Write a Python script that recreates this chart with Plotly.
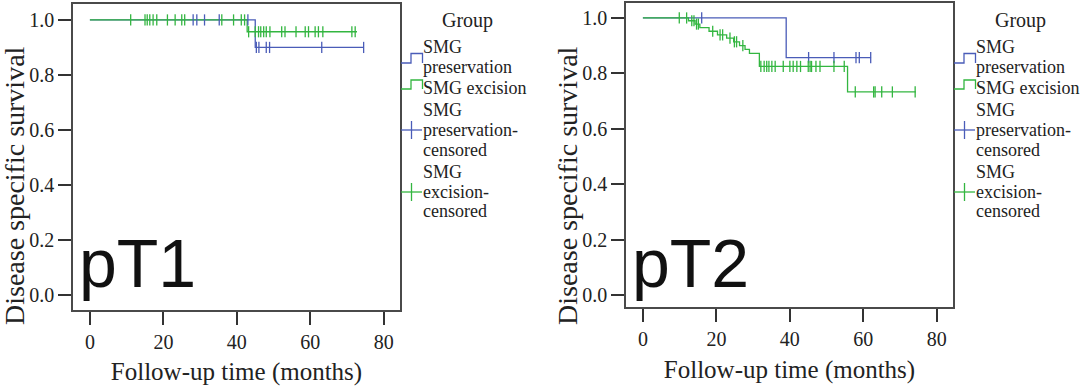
import numpy as np
import plotly.graph_objects as go

# ---------------- data ----------------
# pT1
t1_pres_event_times = [45.0]
t1_pres_event_surv = [0.90]
t1_pres_end = 74.5
t1_pres_censored = [28.1, 29.1, 31.2, 35.2, 43.0, 45.3, 46.0, 48.0, 48.9, 63.1, 74.5]

t1_exc_event_times = [42.8]
t1_exc_event_surv = [0.957]
t1_exc_end = 72.7
t1_exc_censored = [11.1, 15.0, 15.6, 16.3, 17.2, 18.2, 21.1, 23.2, 25.0, 25.8, 35.9, 39.1,
                   41.2, 42.1, 43.2, 45.0, 45.9, 46.5, 47.3, 48.0, 49.0, 52.2, 53.1, 56.1,
                   58.6, 59.5, 61.3, 62.2, 63.4, 71.3, 72.2]

# pT2
t2_pres_event_times = [39.0]
t2_pres_event_surv = [0.857]
t2_pres_end = 62.1
t2_pres_censored = [16.0, 45.1, 52.0, 58.0, 58.9, 62.0]

t2_exc_event_times = [12.4, 14.2, 15.5, 18.0, 20.3, 22.8, 24.7, 26.3, 27.8, 29.0, 31.7, 55.7]
t2_exc_event_surv = [0.990, 0.978, 0.965, 0.952, 0.939, 0.927, 0.914, 0.900, 0.887, 0.872,
                     0.825, 0.733]
t2_exc_end = 74.3
t2_exc_censored = [9.9, 11.9, 13.3, 13.9, 14.6, 15.1, 19.0, 21.0, 21.7, 23.7, 24.9, 25.5,
                   27.2, 32.1, 33.0, 33.7, 34.3, 35.1, 36.0, 38.2, 40.0, 40.9, 41.9, 42.9,
                   45.0, 45.5, 45.9, 47.1, 48.2, 52.0, 54.8, 57.8, 62.8, 63.2, 65.0, 67.9,
                   74.1]

x_ticks = [0, 20, 40, 60, 80]
y_ticks = [0.0, 0.2, 0.4, 0.6, 0.8, 1.0]
panel_labels = ["pT1", "pT2"]

BLUE = "#4A5CB8"
GREEN = "#33B640"
W, H = 1084, 386
SERIF = "Liberation Serif"


def step_xy(ev_t, ev_s, end):
    xs = [0.0] + list(ev_t) + [end]
    ys = [1.0] + list(ev_s) + [ev_s[-1]]
    return xs, ys


def level_at(ev_t, ev_s, times):
    ev_t = np.asarray(ev_t)
    lv = np.concatenate([[1.0], ev_s])
    idx = np.searchsorted(ev_t, np.asarray(times), side="right")
    return lv[idx]


fig = go.Figure()

panels = [
    ("x", "y", [(t1_pres_event_times, t1_pres_event_surv, t1_pres_end, t1_pres_censored, BLUE),
                (t1_exc_event_times, t1_exc_event_surv, t1_exc_end, t1_exc_censored, GREEN)]),
    ("x2", "y2", [(t2_pres_event_times, t2_pres_event_surv, t2_pres_end, t2_pres_censored, BLUE),
                  (t2_exc_event_times, t2_exc_event_surv, t2_exc_end, t2_exc_censored, GREEN)]),
]

for xa, ya, series in panels:
    for (et, es, end, cens, col) in series:
        xs, ys = step_xy(et, es, end)
        fig.add_trace(go.Scatter(x=xs, y=ys, mode="lines", line=dict(color=col, width=1.3, shape="hv"),
                                 xaxis=xa, yaxis=ya, showlegend=False, hoverinfo="skip"))
    for (et, es, end, cens, col) in series:
        fig.add_trace(go.Scatter(x=cens, y=level_at(et, es, cens), mode="markers",
                                 marker=dict(symbol="line-ns", size=8, line=dict(color=col, width=1.3)),
                                 xaxis=xa, yaxis=ya, showlegend=False, hoverinfo="skip"))


def px_x(v):
    return v / W


def px_y(v):
    return 1 - v / H


axis_common = dict(showline=True, mirror=True, linecolor="#4a4a4a", linewidth=1.5,
                   ticks="outside", ticklen=13, tickwidth=1.5, tickcolor="#333",
                   showgrid=False, zeroline=False,
                   tickfont=dict(family=SERIF, size=20, color="#222"))

x_title = dict(text="Follow-up time (months)", font=dict(family=SERIF, size=25, color="#222"), standoff=12)

x_range = [-4.6, 84.4]
fig.update_layout(
    xaxis=dict(domain=[px_x(73), px_x(400)], range=x_range, tickvals=x_ticks, anchor="y",
               title=x_title, **axis_common),
    yaxis=dict(domain=[px_y(310), px_y(4)], range=[-0.055, 1.058], tickvals=y_ticks, tickformat=".1f",
               anchor="x", **axis_common),
    xaxis2=dict(domain=[px_x(626), px_x(953)], range=x_range, tickvals=x_ticks, anchor="y2",
                title=x_title, **axis_common),
    yaxis2=dict(domain=[px_y(307), px_y(3)], range=[-0.043, 1.054], tickvals=y_ticks, tickformat=".1f",
                anchor="x2", **axis_common),
    width=W, height=H, margin=dict(l=0, r=0, t=0, b=0),
    paper_bgcolor="white", plot_bgcolor="white", showlegend=False,
)

# ---------------- y titles, panel labels and legends ----------------
annotations = []
shapes = []
for lab, off in zip(panel_labels, [0, 553]):
    annotations.append(dict(text="Disease specific survival", x=px_x(15 + off), y=px_y(186),
                            xref="paper", yref="paper", xanchor="center", yanchor="middle",
                            textangle=-90, showarrow=False, borderpad=0,
                            font=dict(family=SERIF, size=28, color="#222")))
    annotations.append(dict(text=lab, x=px_x(77 + off), y=px_y(263),
                            xref="paper", yref="paper", xanchor="left", yanchor="middle",
                            showarrow=False, font=dict(family="Liberation Sans", size=68, color="#111")))
    lx = 401 + off
    annotations.append(dict(text="Group", x=px_x(467 + off), y=px_y(21), xref="paper", yref="paper",
                            xanchor="center", yanchor="middle", showarrow=False,
                            font=dict(family=SERIF, size=20, color="#222")))
    legend_lines = [
        ("SMG", 47), ("preservation", 67), ("SMG excision", 88),
        ("SMG", 110), ("preservation-", 130), ("censored", 150),
        ("SMG", 172), ("excision-", 192), ("censored", 211),
    ]
    for txt, yy in legend_lines:
        annotations.append(dict(text=txt, x=px_x(lx + 20), y=px_y(yy), xref="paper", yref="paper",
                                xanchor="left", yanchor="middle", showarrow=False,
                                font=dict(family=SERIF, size=18, color="#222")))
    for col, ylo, yhi in [(BLUE, 63, 53.5), (GREEN, 89, 80)]:
        path = "M {a},{b} L {c},{b} L {c},{d} L {e},{d} L {e},{b}".format(
            a=px_x(lx), b=px_y(ylo), c=px_x(lx + 10), d=px_y(yhi), e=px_x(lx + 21.5))
        shapes.append(dict(type="path", path=path, xref="paper", yref="paper",
                           line=dict(color=col, width=1.3)))
    for col, yc in [(BLUE, 130), (GREEN, 192)]:
        shapes.append(dict(type="line", x0=px_x(lx), x1=px_x(lx + 21), y0=px_y(yc), y1=px_y(yc),
                           xref="paper", yref="paper", line=dict(color=col, width=1.3)))
        shapes.append(dict(type="line", x0=px_x(lx + 10.5), x1=px_x(lx + 10.5), y0=px_y(yc - 9),
                           y1=px_y(yc + 9), xref="paper", yref="paper", line=dict(color=col, width=1.3)))

fig.update_layout(annotations=annotations, shapes=shapes)
fig.write_html("out.html", config={"displayModeBar": False},
               post_script="document.body.style.margin='0';document.body.style.overflow='hidden';")
